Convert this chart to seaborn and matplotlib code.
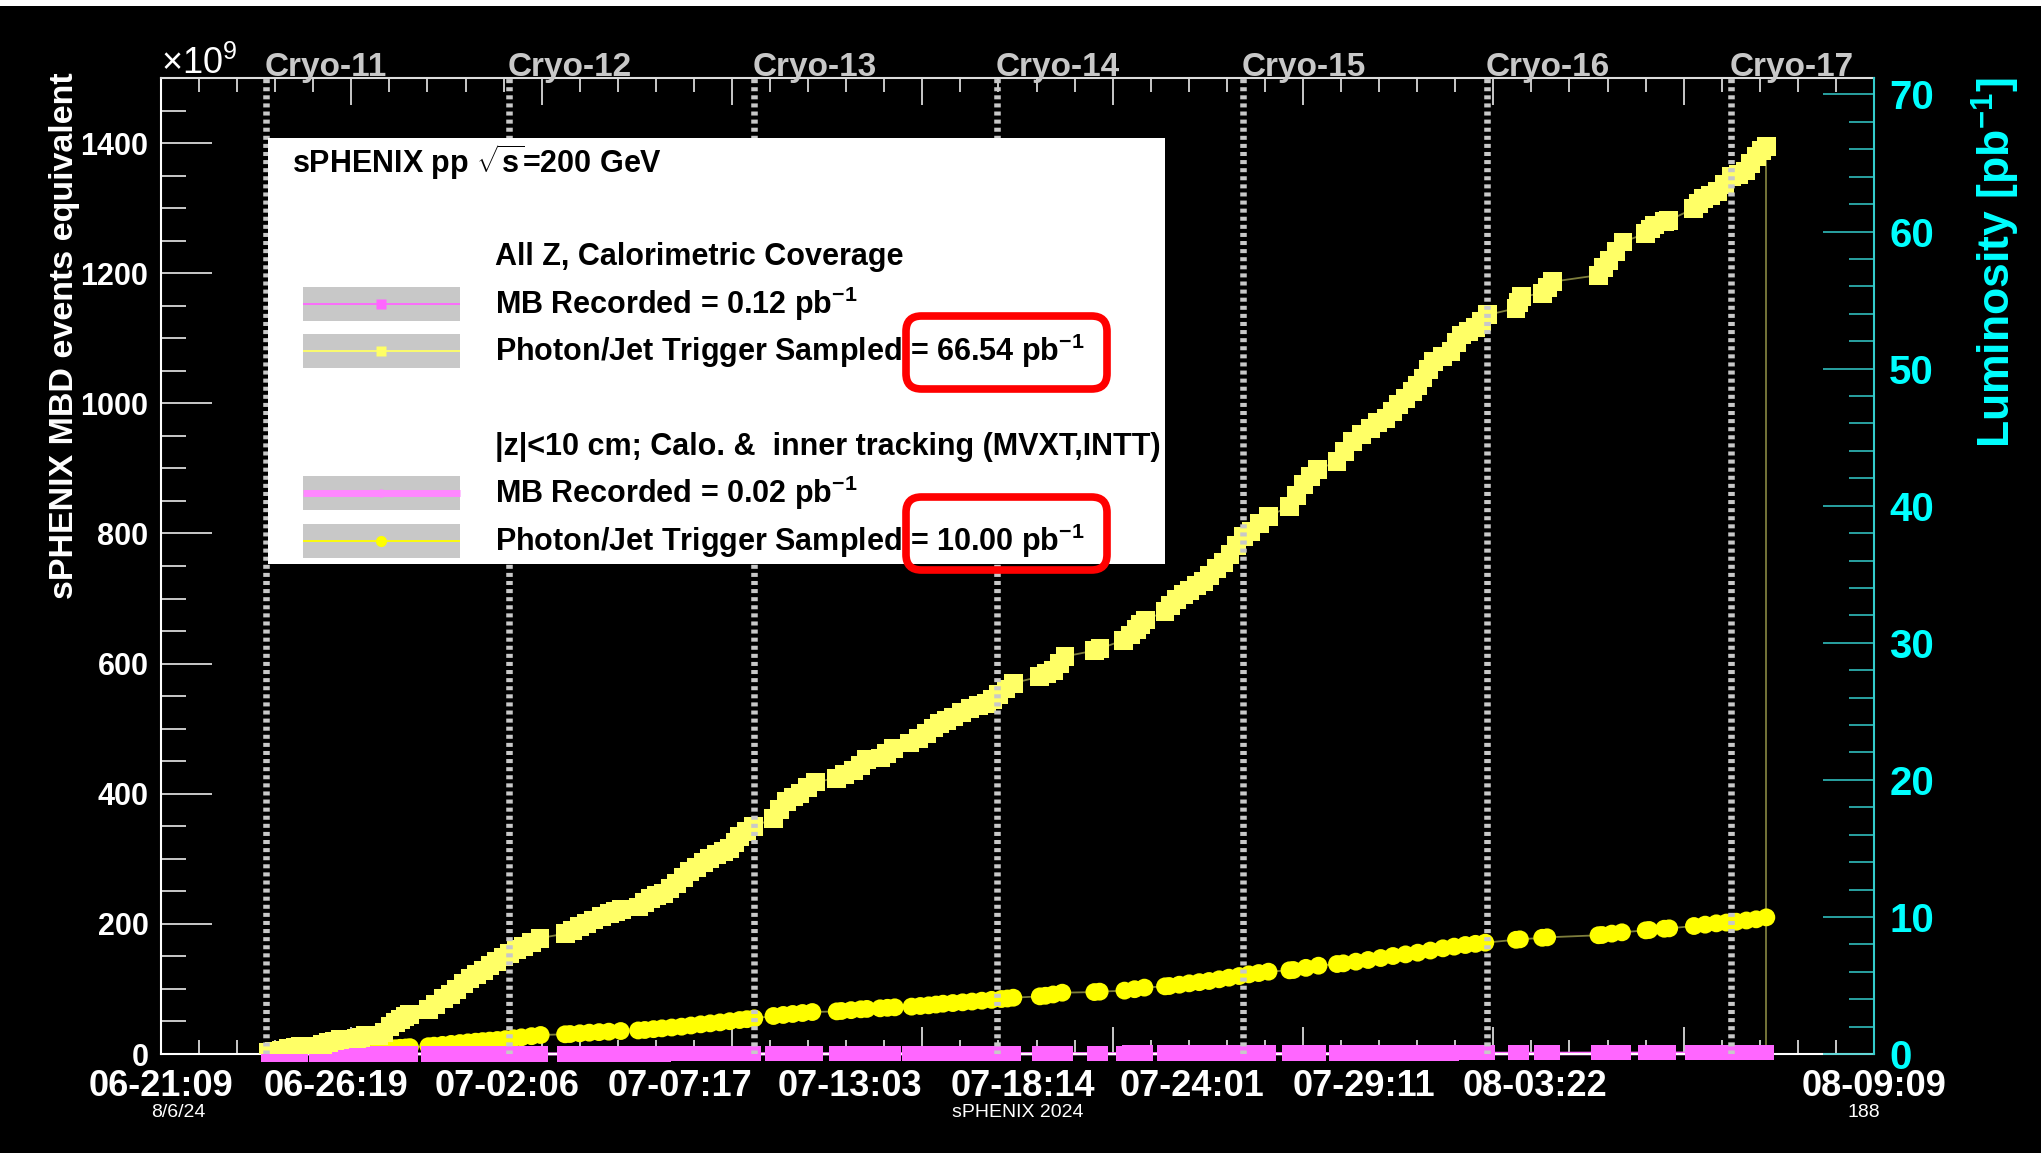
import matplotlib
matplotlib.use("Agg")
import matplotlib.pyplot as plt
import matplotlib.patches as mpatches
from matplotlib.ticker import MultipleLocator
import pandas as pd
import seaborn as sns

# time axis in days since 06-21 09:00, event counts in units of 1e9
# one line per block of runs
sq_days = [3.07, 3.25, 3.45, 3.65, 3.85, 3.98,
           4.45, 4.62, 4.80, 4.97, 5.12,
           5.58, 5.72, 5.85,
           6.22, 6.38, 6.55, 6.70, 6.84, 6.98, 7.12,
           7.65, 7.85, 8.08, 8.27, 8.46, 8.65, 8.84, 9.03, 9.22, 9.41, 9.60, 9.79, 9.98, 10.17, 10.36, 10.60, 10.84,
           11.56, 11.77, 11.98, 12.17, 12.37, 12.60, 12.84, 13.00, 13.18,
           13.65, 13.82, 13.99, 14.18, 14.37, 14.56, 14.75, 14.94, 15.13, 15.32, 15.51, 15.70, 15.89, 16.08, 16.27, 16.42, 16.56, 16.75, 16.94,
           17.51, 17.70, 17.90, 18.09, 18.28, 18.50, 18.71,
           19.33, 19.56, 19.80, 20.00, 20.19,
           20.57, 20.76, 20.95,
           21.42, 21.66, 21.90, 22.09, 22.28, 22.47, 22.66, 22.90, 23.14, 23.38, 23.62, 23.79, 23.95, 24.17, 24.38,
           25.14, 25.33, 25.52, 25.70, 25.86,
           26.70, 26.86,
           27.53, 27.72, 27.91, 28.03, 28.15,
           28.72, 28.88, 29.05, 29.24, 29.43, 29.62, 29.81, 30.00, 30.20, 30.39, 30.58, 30.77, 30.96, 31.18, 31.43, 31.68,
           32.28, 32.48, 32.69, 32.89, 33.09,
           33.64, 33.86, 34.09, 34.34, 34.59, 34.81, 35.04, 35.22, 35.40, 35.60, 35.80, 35.95, 36.10, 36.25, 36.40, 36.65, 36.90, 37.05, 37.20, 37.40, 37.60, 37.78, 37.95,
           38.76, 38.84, 38.91,
           39.51, 39.66, 39.81,
           41.12, 41.27, 41.42, 41.62, 41.82,
           42.47, 42.60, 42.72,
           43.00, 43.12,
           43.83, 43.98, 44.13, 44.33, 44.53, 44.73, 44.93, 45.13, 45.33, 45.48, 45.63, 45.78, 45.92]
# Photon/Jet trigger sampled, all z
sq_vals = [2, 4, 6, 8, 10, 11,
           12, 14, 17, 20, 22,
           24, 26, 28,
           29, 33, 42, 48, 53, 58, 61,
           69, 76, 85, 92, 99, 108, 116, 122, 129, 136, 142, 149, 155, 160, 165, 172, 178,
           185, 190, 196, 201, 206, 211, 216, 219, 222,
           226, 233, 239, 243, 247, 255, 262, 271, 280, 287, 294, 300, 306, 311, 316, 325, 334, 342, 349,
           362, 376, 388, 395, 401, 410, 418,
           424, 430, 436, 444, 452,
           455, 462, 470,
           478, 485, 493, 501, 508, 513, 518, 525, 531, 535, 539, 545, 552, 561, 570,
           580, 585, 590, 600, 611,
           620, 623,
           636, 644, 652, 660, 667,
           680, 689, 698, 706, 713, 720, 726, 736, 746, 756, 767, 781, 795, 803, 815, 826,
           842, 858, 875, 887, 898,
           911, 926, 941, 952, 962, 970, 977, 988, 998, 1008, 1018, 1028, 1039, 1052, 1064, 1072, 1080, 1093, 1105, 1111, 1116, 1126, 1136,
           1146, 1155, 1164,
           1169, 1178, 1187,
           1197, 1209, 1220, 1234, 1248,
           1261, 1268, 1274,
           1279, 1281,
           1299, 1307, 1315, 1320, 1325, 1337, 1348, 1352, 1357, 1369, 1380, 1388, 1395]
# MB recorded, all z (same runs)
mb_vals = [0.0, 0.0, 0.0, 0.0, 0.0, 0.0,
           0.0, 0.0, 0.0, 0.0, 0.0,
           0.0, 0.0, 0.0,
           0.1, 0.1, 0.1, 0.1, 0.1, 0.1, 0.1,
           0.1, 0.1, 0.2, 0.2, 0.2, 0.2, 0.2, 0.2, 0.2, 0.2, 0.3, 0.3, 0.3, 0.3, 0.3, 0.3, 0.3,
           0.3, 0.3, 0.4, 0.4, 0.4, 0.4, 0.4, 0.4, 0.4,
           0.4, 0.4, 0.4, 0.4, 0.4, 0.5, 0.5, 0.5, 0.5, 0.5, 0.5, 0.5, 0.6, 0.6, 0.6, 0.6, 0.6, 0.6, 0.6,
           0.7, 0.7, 0.7, 0.7, 0.7, 0.7, 0.8,
           0.8, 0.8, 0.8, 0.8, 0.8,
           0.8, 0.8, 0.8,
           0.9, 0.9, 0.9, 0.9, 0.9, 0.9, 0.9, 0.9, 1.0, 1.0, 1.0, 1.0, 1.0, 1.0, 1.0,
           1.0, 1.1, 1.1, 1.1, 1.1,
           1.1, 1.1,
           1.1, 1.2, 1.2, 1.2, 1.2,
           1.2, 1.2, 1.3, 1.3, 1.3, 1.3, 1.3, 1.3, 1.3, 1.4, 1.4, 1.4, 1.4, 1.4, 1.5, 1.5,
           1.5, 1.5, 1.6, 1.6, 1.6,
           1.6, 1.7, 1.7, 1.7, 1.7, 1.8, 1.8, 1.8, 1.8, 1.8, 1.8, 1.9, 1.9, 1.9, 1.9, 1.9, 1.9, 2.0, 2.0, 2.0, 2.0, 2.0, 2.0,
           2.1, 2.1, 2.1,
           2.1, 2.1, 2.1,
           2.2, 2.2, 2.2, 2.2, 2.2,
           2.3, 2.3, 2.3,
           2.3, 2.3,
           2.3, 2.3, 2.4, 2.4, 2.4, 2.4, 2.4, 2.4, 2.4, 2.5, 2.5, 2.5, 2.5]

circ_days = [3.07, 3.30, 3.50, 3.75, 3.98,
             4.45, 4.65, 4.83, 5.00, 5.12,
             5.58, 5.79,
             6.22, 6.40, 6.57, 6.70, 6.84, 7.00, 7.12,
             7.65, 7.81, 8.05, 8.30, 8.55, 8.78, 9.00, 9.20, 9.40, 9.62, 9.85, 10.08, 10.31, 10.60, 10.86,
             11.56, 11.70, 11.98, 12.25, 12.53, 12.81, 13.15,
             13.65, 13.84, 14.09, 14.33, 14.61, 14.89, 15.16, 15.44, 15.71, 15.99, 16.27, 16.55, 16.76, 16.97,
             17.52, 17.80, 18.07, 18.35, 18.63,
             19.33, 19.46, 19.74, 20.02, 20.19,
             20.57, 20.78, 20.99,
             21.47, 21.72, 21.96, 22.17, 22.37, 22.65, 22.93, 23.20, 23.48, 23.76, 24.04, 24.21, 24.38,
             25.14, 25.30, 25.52, 25.78,
             26.70, 26.85,
             27.56, 27.85, 28.13,
             28.72, 28.84, 29.13, 29.41, 29.70, 29.98, 30.27, 30.55, 30.84, 31.12, 31.40, 31.68,
             32.28, 32.39, 32.75, 33.11,
             33.64, 33.82, 34.18, 34.53, 34.89, 35.24, 35.60, 35.95, 36.31, 36.67, 36.99, 37.31, 37.60, 37.88,
             38.76, 38.87,
             39.51, 39.65,
             41.12, 41.22, 41.50, 41.79,
             42.47, 42.57,
             43.00, 43.14,
             43.85, 44.17, 44.49, 44.78, 45.06, 45.35, 45.63, 45.92]
# Photon/Jet trigger sampled, |z|<10 cm
circ_vals = [0.3, 0.6, 1.0, 1.4, 1.8,
             2.5, 2.9, 3.3, 3.7, 4.0,
             5.0, 5.8,
             7.0, 7.5, 8.0, 8.8, 9.5, 10.0, 10.5,
             12.0, 12.8, 14.0, 15.5, 16.8, 17.9, 18.9, 19.8, 20.6, 21.5, 22.8, 24.2, 25.6, 27.4, 29.2,
             30.3, 30.7, 31.8, 32.8, 33.6, 34.3, 35.3,
             36.2, 36.9, 38.2, 39.4, 40.7, 42.0, 43.8, 45.6, 47.1, 48.6, 50.4, 52.2, 53.5, 54.8,
             58.4, 60.0, 61.5, 63.0, 64.5,
             65.5, 66.1, 67.4, 68.7, 69.3,
             70.2, 71.0, 71.7,
             72.8, 73.8, 74.8, 76.0, 77.3, 78.3, 79.4, 80.6, 81.9, 83.2, 84.5, 85.3, 86.5,
             88.6, 89.5, 91.5, 94.2,
             95.2, 95.8,
             97.4, 99.6, 102.0,
             104.0, 104.5, 106.5, 108.6, 110.4, 112.2, 114.8, 117.3, 119.8, 122.4, 124.4, 126.5,
             128.6, 129.1, 132.4, 135.7,
             138.3, 139.3, 141.9, 144.5, 147.5, 150.6, 153.1, 155.7, 159.0, 162.4, 165.0, 167.5, 169.3, 171.1,
             175.5, 176.2,
             178.6, 179.3,
             182.5, 182.9, 185.0, 187.0,
             190.0, 190.6,
             192.5, 193.1,
             196.7, 198.8, 200.8, 202.0, 203.3, 205.2, 207.0, 210.0]
# MB recorded, |z|<10 cm
mbz_vals = [0.0, 0.0, 0.0, 0.0, 0.0,
            0.0, 0.0, 0.0, 0.0, 0.0,
            0.0, 0.0,
            0.0, 0.0, 0.0, 0.0, 0.0, 0.0, 0.0,
            0.0, 0.0, 0.0, 0.0, 0.0, 0.0, 0.0, 0.0, 0.0, 0.0, 0.0, 0.0, 0.0, 0.0, 0.0,
            0.1, 0.1, 0.1, 0.1, 0.1, 0.1, 0.1,
            0.1, 0.1, 0.1, 0.1, 0.1, 0.1, 0.1, 0.1, 0.1, 0.1, 0.1, 0.1, 0.1, 0.1,
            0.1, 0.1, 0.1, 0.1, 0.1,
            0.1, 0.1, 0.1, 0.1, 0.1,
            0.2, 0.2, 0.2,
            0.2, 0.2, 0.2, 0.2, 0.2, 0.2, 0.2, 0.2, 0.2, 0.2, 0.2, 0.2, 0.2,
            0.2, 0.2, 0.2, 0.2,
            0.2, 0.2,
            0.2, 0.2, 0.2,
            0.3, 0.3, 0.3, 0.3, 0.3, 0.3, 0.3, 0.3, 0.3, 0.3, 0.3, 0.3,
            0.3, 0.3, 0.3, 0.3,
            0.3, 0.3, 0.3, 0.3, 0.3, 0.3, 0.3, 0.3, 0.3, 0.3, 0.3, 0.3, 0.3, 0.3,
            0.4, 0.4,
            0.4, 0.4,
            0.4, 0.4, 0.4, 0.4,
            0.4, 0.4,
            0.4, 0.4,
            0.4, 0.4, 0.4, 0.4, 0.4, 0.4, 0.4, 0.4]

cryo_days = [3.0, 9.96, 16.95, 23.92, 30.95, 37.94, 44.92]
cryo_labels = ["Cryo-11", "Cryo-12", "Cryo-13", "Cryo-14", "Cryo-15", "Cryo-16", "Cryo-17"]

date_label_days = [0.0, 5.0, 9.9, 14.85, 19.7, 24.65, 29.5, 34.4, 39.3, 49.0]
date_labels = ["06-21:09", "06-26:19", "07-02:06", "07-07:17", "07-13:03",
               "07-18:14", "07-24:01", "07-29:11", "08-03:22", "08-09:09"]

legend_texts = [r"MB Recorded = 0.12 pb$^{\mathregular{-1}}$",
                r"Photon/Jet Trigger Sampled = 66.54 pb$^{\mathregular{-1}}$",
                r"MB Recorded = 0.02 pb$^{\mathregular{-1}}$",
                r"Photon/Jet Trigger Sampled = 10.00 pb$^{\mathregular{-1}}$"]

x_max = 49.0
y_max = 1500
lumi_max = 71.2

MAGENTA = "#ff66ff"
LIGHT_YELLOW = "#ffff66"
YELLOW = "#ffff00"
OLIVE = "#7d7d3c"
CYAN = "#00ffff"
CYAN_AXIS = "#33cccc"

sns.set_theme(style="ticks")
plt.rcParams["font.family"] = ["Liberation Sans", "DejaVu Sans"]
plt.rcParams["font.weight"] = "bold"
plt.rcParams["mathtext.fontset"] = "custom"
plt.rcParams["mathtext.rm"] = "Liberation Sans:bold"
plt.rcParams["mathtext.bf"] = "Liberation Sans:bold"
plt.rcParams["mathtext.it"] = "Liberation Sans:italic:bold"

W, H = 2041, 1153
AX_L, AX_R, AX_T, AX_B = 161, 1874, 78, 1054

fig = plt.figure(figsize=(W / 100, H / 100), dpi=100, facecolor="black")
ax = fig.add_axes([AX_L / W, (H - AX_B) / H, (AX_R - AX_L) / W, (AX_B - AX_T) / H])
ax.set_facecolor("black")


def af(px, py):
    # pixel position -> axes fraction
    return (px - AX_L) / (AX_R - AX_L), (AX_B - py) / (AX_B - AX_T)


df_sq = pd.DataFrame({"day": sq_days, "photon": sq_vals, "mb": mb_vals})
df_z = pd.DataFrame({"day": circ_days, "photon": circ_vals, "mb": mbz_vals})

# connecting lines
sns.lineplot(data=df_z, x="day", y="mb", color="#ff88ff", linewidth=2.2,
             estimator=None, sort=False, ax=ax, zorder=2, clip_on=False)
sns.lineplot(data=df_z, x="day", y="photon", color=OLIVE, linewidth=1.3,
             estimator=None, sort=False, ax=ax, zorder=2)
sns.lineplot(data=df_sq, x="day", y="mb", color=MAGENTA, linewidth=1.3,
             estimator=None, sort=False, ax=ax, zorder=2, clip_on=False)
sns.lineplot(data=df_sq, x="day", y="photon", color=OLIVE, linewidth=1.3,
             estimator=None, sort=False, ax=ax, zorder=2)
ax.vlines(sq_days[-1], 0, sq_vals[-1], color=OLIVE, linewidth=1.3, zorder=2)

# markers
sns.scatterplot(data=df_z, x="day", y="photon", marker="o", s=165, color=YELLOW,
                edgecolor="none", linewidth=0, ax=ax, zorder=3)
sns.scatterplot(data=df_sq, x="day", y="mb", marker="s", s=125, color=MAGENTA,
                edgecolor="none", linewidth=0, ax=ax, zorder=4, clip_on=False)
sns.scatterplot(data=df_sq, x="day", y="photon", marker="s", s=185, color=LIGHT_YELLOW,
                edgecolor="none", linewidth=0, ax=ax, zorder=5)

# cryo markers
for d, lbl in zip(cryo_days, cryo_labels):
    ax.axvline(d, color="#c8c8c8", linewidth=4.7, linestyle=(0, (0.62, 0.62)),
               dash_capstyle="butt", zorder=6)
    ax.annotate(lbl, xy=(d, 1), xycoords=("data", "axes fraction"), xytext=(-1, 1.5),
                textcoords="offset points", ha="left", va="baseline", color="#c8c8c8",
                fontsize=24, fontweight="bold", annotation_clip=False)

ax.set_xlim(0, x_max)
ax.set_ylim(0, y_max)
ax.set_xlabel("")
ax.set_ylabel("")

ax.xaxis.set_major_locator(MultipleLocator(x_max / 9))
ax.xaxis.set_minor_locator(MultipleLocator(x_max / 45))
ax.yaxis.set_major_locator(MultipleLocator(200))
ax.yaxis.set_minor_locator(MultipleLocator(50))
ax.tick_params(axis="x", which="both", direction="in", bottom=True, top=True,
               labelbottom=False, color="white", width=1.1)
ax.tick_params(axis="x", which="major", length=19.5)
ax.tick_params(axis="x", which="minor", length=10)
ax.tick_params(axis="y", which="both", direction="in", left=True, right=False,
               color="white", width=1.1, labelcolor="white", labelsize=22, pad=9)
ax.tick_params(axis="y", which="major", length=37)
ax.tick_params(axis="y", which="minor", length=18)
for side in ["left", "bottom"]:
    ax.spines[side].set_color("white")
    ax.spines[side].set_linewidth(1.5)
ax.spines["top"].set_color("#dddddd")
ax.spines["top"].set_linewidth(1.5)
ax.spines["right"].set_visible(False)

# date labels on the time axis
for d, lbl in zip(date_label_days, date_labels):
    ax.annotate(lbl, xy=(d, 0), xycoords=("data", "axes fraction"), xytext=(0, -10.5),
                textcoords="offset points", ha="center", va="top", color="white",
                fontsize=26, fontweight="bold", annotation_clip=False)

# luminosity axis
ax2 = ax.twinx()
ax2.set_ylim(0, lumi_max)
ax2.yaxis.set_major_locator(MultipleLocator(10))
ax2.yaxis.set_minor_locator(MultipleLocator(2))
ax2.tick_params(axis="y", which="both", direction="in", color=CYAN_AXIS, width=1.1,
                labelcolor=CYAN, labelsize=29, pad=11)
ax2.tick_params(axis="y", which="major", length=37)
ax2.tick_params(axis="y", which="minor", length=18)
for side in ["left", "top", "bottom"]:
    ax2.spines[side].set_visible(False)
ax2.spines["right"].set_color(CYAN_AXIS)
ax2.spines["right"].set_linewidth(1.5)

# legend box
x0, y1 = af(268, 138)
x1, y0 = af(1165, 564)
ax.add_patch(mpatches.Rectangle((x0, y0), x1 - x0, y1 - y0, transform=ax.transAxes,
                                facecolor="white", edgecolor="none", zorder=10, clip_on=False))

tx, ty = af(292, 162)
ax.text(tx, ty, r"sPHENIX pp $\mathregular{\sqrt{s}}$=200 GeV", transform=ax.transAxes,
        ha="left", va="center", fontsize=22, color="black", zorder=11)
tx, ty = af(495, 257)
ax.text(tx, ty, "All Z, Calorimetric Coverage", transform=ax.transAxes,
        ha="left", va="center", fontsize=22, color="black", zorder=11)
tx, ty = af(495, 447)
ax.text(tx, ty, "|z|<10 cm; Calo. &  inner tracking (MVXT,INTT)", transform=ax.transAxes,
        ha="left", va="center", fontsize=22, color="black", zorder=11)

entry_y = [304, 351, 493, 541]
entry_style = [
    dict(color=MAGENTA, lw=1.3, marker="s", ms=7.5),
    dict(color=LIGHT_YELLOW, lw=1.3, marker="s", ms=7.5),
    dict(color="#ff88ff", lw=5.0, marker="o", ms=6),
    dict(color=YELLOW, lw=1.3, marker="o", ms=8),
]
for yc, text, st in zip(entry_y, legend_texts, entry_style):
    bx0, by1 = af(303, yc - 17)
    bx1, by0 = af(460, yc + 17)
    ax.add_patch(mpatches.Rectangle((bx0, by0), bx1 - bx0, by1 - by0, transform=ax.transAxes,
                                    facecolor="#c8c8c8", edgecolor="none", zorder=11, clip_on=False))
    mx, my = af(381, yc)
    ax.plot([bx0, bx1], [my, my], transform=ax.transAxes, color=st["color"], lw=st["lw"],
            zorder=12, clip_on=False, solid_capstyle="butt")
    ax.plot([mx], [my], transform=ax.transAxes, marker=st["marker"], ms=st["ms"],
            color=st["color"], mec="none", zorder=13, clip_on=False)
    tx, ty = af(495, yc)
    ax.text(tx, ty, text, transform=ax.transAxes, ha="left", va="center",
            fontsize=22, color="black", zorder=13)

# red highlight boxes
aspect = (AX_R - AX_L) / (AX_B - AX_T)
for top, bot in [(316, 389), (497, 570)]:
    rx0, ry1 = af(906, top)
    rx1, ry0 = af(1107, bot)
    ax.add_patch(mpatches.FancyBboxPatch((rx0, ry0), rx1 - rx0, ry1 - ry0,
                                         boxstyle="round,pad=0,rounding_size=0.009",
                                         mutation_aspect=aspect, transform=ax.transAxes,
                                         fill=False, edgecolor="red", linewidth=5.5,
                                         zorder=14, clip_on=False))

# axis titles and small labels
fig.text(161 / W, 1 - 74 / H, r"$\mathregular{\times10^{9}}$", ha="left", va="baseline",
         color="white", fontsize=26, fontweight="normal")
fig.text(65 / W, 1 - 72 / H, "sPHENIX MBD events equivalent", rotation=90,
         ha="center", va="top", color="white", fontsize=24.5, fontweight="bold")
fig.text(1996 / W, 1 - 78 / H, r"Luminosity [pb$^{\mathregular{-1}}$]", rotation=90,
         ha="center", va="top", color=CYAN, fontsize=32, fontweight="bold")
for px, small in [(178, "8/6/24"), (1018, "sPHENIX 2024"), (1864, "188")]:
    fig.text(px / W, 1 - 1104 / H, small, ha="center", va="top", color="white",
             fontsize=14, fontweight="normal")

# thin white strip along the top edge
fig.patches.append(mpatches.Rectangle((0, 1 - 6 / H), 1, 6 / H, transform=fig.transFigure,
                                      facecolor="white", edgecolor="none"))

fig.savefig("out.png", dpi=100, facecolor="black")
